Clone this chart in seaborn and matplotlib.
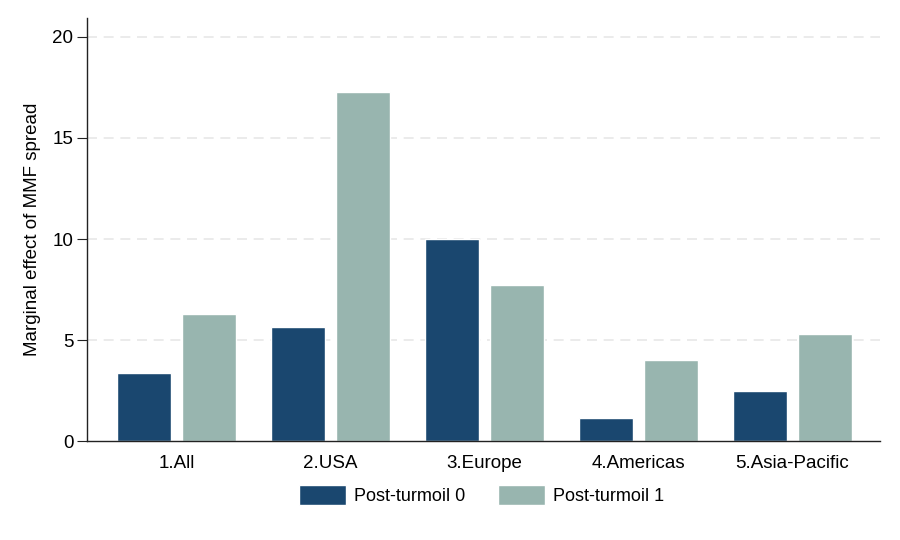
import matplotlib
matplotlib.use("Agg")
import matplotlib.pyplot as plt
import seaborn as sns
import pandas as pd

regions = ["1.All", "2.USA", "3.Europe", "4.Americas", "5.Asia-Pacific"]
post0 = [3.35, 5.65, 10.02, 1.15, 2.48]
post1 = [6.27, 17.28, 7.74, 4.02, 5.32]
series = ["Post-turmoil 0", "Post-turmoil 1"]
yticks = [0, 5, 10, 15, 20]

df = pd.DataFrame({
    "region": regions * 2,
    "value": post0 + post1,
    "series": [series[0]] * len(regions) + [series[1]] * len(regions),
})

sns.set_theme(style="white")
plt.rcParams["font.family"] = ["Liberation Sans", "DejaVu Sans"]
plt.rcParams["text.color"] = "black"
plt.rcParams["axes.labelcolor"] = "black"
plt.rcParams["xtick.color"] = "black"
plt.rcParams["ytick.color"] = "black"

fig = plt.figure(figsize=(9, 5.4), dpi=100)
ax = fig.add_axes([0.097, 0.183, 0.881, 0.784])

palette = {series[0]: "#1a476f", series[1]: "#98b5af"}
sns.barplot(data=df, x="region", y="value", hue="series", order=regions,
            hue_order=series, palette=palette, width=0.84, gap=0.167,
            saturation=1, ax=ax, legend=True)

ax.set_xlim(-0.58, 4.57)
ax.set_ylim(0, 20.94)
ax.set_yticks(yticks)
ax.set_yticklabels([str(t) for t in yticks], fontsize=13.5)
ax.tick_params(axis="y", length=7, width=0.8, color="#222222", pad=3, left=True)
ax.tick_params(axis="x", length=0, labelsize=13.5, pad=10)
ax.set_xlabel("")
ax.set_ylabel("Marginal effect of MMF spread", fontsize=13.5, labelpad=8)

for t in yticks[1:]:
    ax.axhline(t, color="#e8e8e8", lw=1.2, ls=(0, (6, 4)), zorder=0)

for s in ["top", "right"]:
    ax.spines[s].set_visible(False)
for s in ["left", "bottom"]:
    ax.spines[s].set_color("#222222")
    ax.spines[s].set_linewidth(1.0)

handles, labels = ax.get_legend_handles_labels()
ax.legend(handles, labels, loc="upper center", bbox_to_anchor=(0.497, -0.065),
          ncol=2, frameon=False, fontsize=13, handlelength=2.6, handleheight=1.3,
          columnspacing=1.8, handletextpad=0.45)

fig.savefig("out.png", dpi=100)
